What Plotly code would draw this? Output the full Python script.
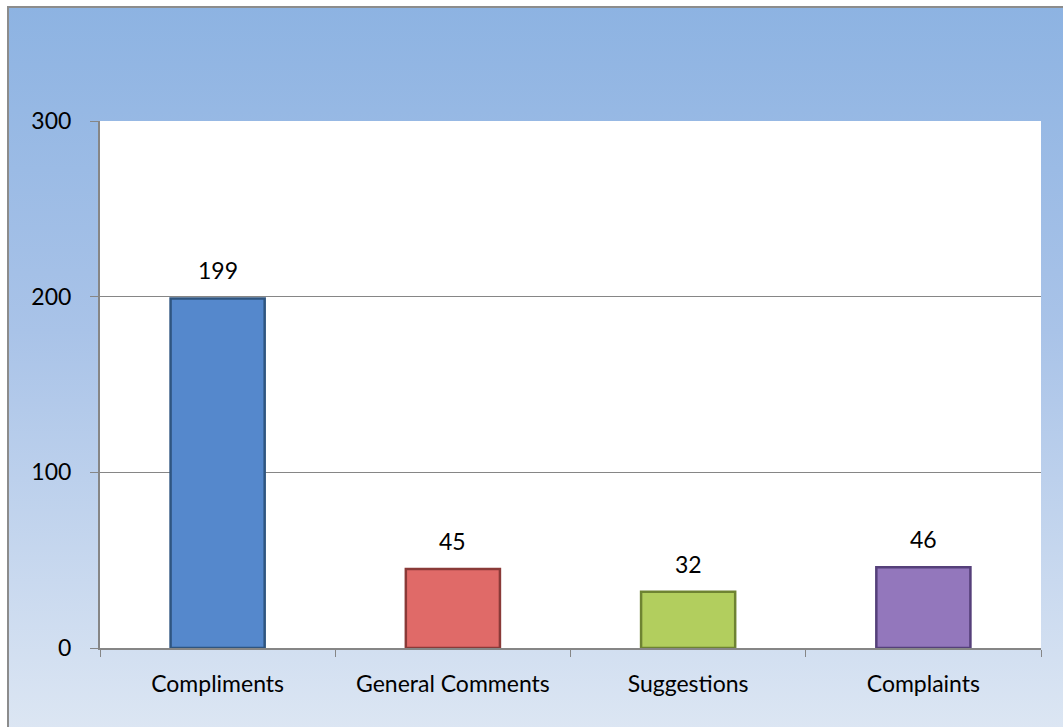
import base64

import plotly.graph_objects as go

categories = ["Compliments", "General Comments", "Suggestions", "Complaints"]
counts = [199, 45, 32, 46]
bar_colors = ["#5588CC", "#E06A68", "#B2CE5E", "#9377BC"]
edge_colors = ["#2F5580", "#8A3A38", "#6E8332", "#55407A"]

y_ticks = [0, 100, 200, 300]

W, H = 1063, 727
L, R, T, B = 100, 22, 121, 79
pw, ph = W - L - R, H - T - B

# blue gradient for the chart area background (svg data uri)
svg = (
    '<svg xmlns="http://www.w3.org/2000/svg" width="100" height="100" preserveAspectRatio="none">'
    '<defs><linearGradient id="g" x1="0" y1="0" x2="0" y2="1">'
    '<stop offset="0" stop-color="#8DB3E2"/>'
    '<stop offset="0.45" stop-color="#A9C3E8"/>'
    '<stop offset="1" stop-color="#DCE6F3"/>'
    "</linearGradient></defs>"
    '<rect width="100" height="100" fill="url(#g)"/></svg>'
)
grad_src = "data:image/svg+xml;base64," + base64.b64encode(svg.encode()).decode()


def px_x(v):
    return (v - L) / pw


def px_y(v):
    return (H - B - v) / ph


fig = go.Figure(
    go.Bar(
        x=categories,
        y=counts,
        width=0.4,
        marker=dict(color=bar_colors, line=dict(color=edge_colors, width=2.5)),
        hoverinfo="x+y",
    )
)

# value labels sit a little above each bar, like the original
for cat, val in zip(categories, counts):
    fig.add_annotation(
        x=cat,
        y=val,
        text=str(val),
        showarrow=False,
        yanchor="bottom",
        yshift=12,
        font=dict(size=23, color="#000000"),
    )

fig.update_layout(
    width=W,
    height=H,
    margin=dict(l=L, r=R, t=T, b=B, pad=0),
    paper_bgcolor="white",
    plot_bgcolor="white",
    font=dict(family="Lato, Calibri, sans-serif", size=23, color="#000000"),
    showlegend=False,
    images=[
        dict(
            source=grad_src,
            xref="paper",
            yref="paper",
            x=px_x(8),
            y=px_y(6),
            sizex=px_x(W + 2) - px_x(8),
            sizey=px_y(6) - px_y(H + 2),
            sizing="stretch",
            xanchor="left",
            yanchor="top",
            layer="below",
        )
    ],
    shapes=[
        dict(
            type="rect",
            xref="paper",
            yref="paper",
            x0=0,
            x1=1,
            y0=0,
            y1=1,
            fillcolor="white",
            line=dict(width=0),
            layer="below",
        ),
        dict(
            type="rect",
            xref="paper",
            yref="paper",
            x0=px_x(8),
            x1=px_x(W + 5),
            y0=px_y(H + 5),
            y1=px_y(7),
            fillcolor="rgba(0,0,0,0)",
            line=dict(color="#8C8C8C", width=2),
            layer="above",
        ),
    ],
    xaxis=dict(
        showline=True,
        linecolor="#868686",
        linewidth=2,
        ticks="outside",
        tickson="boundaries",
        ticklen=7,
        tickcolor="#868686",
        showgrid=False,
        ticklabelstandoff=14,
    ),
    yaxis=dict(
        range=[0, 300],
        tickvals=y_ticks,
        showline=True,
        linecolor="#868686",
        linewidth=2,
        ticks="outside",
        ticklen=8,
        tickcolor="#868686",
        showgrid=True,
        gridcolor="#868686",
        gridwidth=1,
        zeroline=False,
        ticklabelstandoff=14,
    ),
)

fig.write_html(
    "out.html",
    config={"displayModeBar": False},
    post_script="document.body.style.margin='0';",
)
